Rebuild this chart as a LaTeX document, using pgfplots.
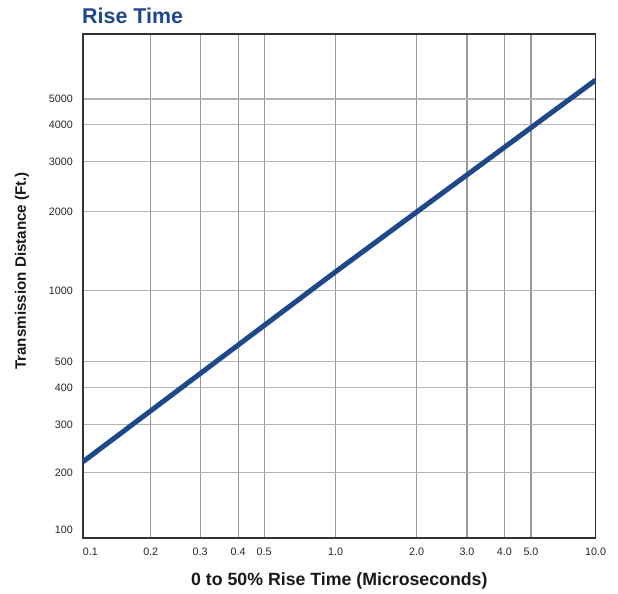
\documentclass[border=0pt]{standalone}
\usepackage{fontspec}
\setmainfont{Liberation Sans}
\usepackage{pgfplots}
\pgfplotsset{compat=1.18}
\definecolor{riseblue}{RGB}{30,72,138}
\definecolor{gridgrayx}{RGB}{152,152,152}
\definecolor{gridgrayy}{RGB}{180,180,180}

% piecewise mapping of the printed (slightly irregular) log grid
\newcommand\getL[1]{%
  \pgfmathfloatparsenumber{#1}\pgfmathfloattofixed{\pgfmathresult}\let\myV\pgfmathresult
  \pgfkeys{/pgf/fpu=false}%
  \pgfmathparse{ln(\myV)/ln(10)}\let\myL\pgfmathresult}
\newcommand\xmap[1]{%
  \begingroup\getL{#1}%
  \pgfmathparse{(\myL<(-0.69897)) ? ((\myL+1)*224.9) : ((\myL<(-0.52288)) ? (67.7+(\myL+0.69897)*281.7) : ((\myL<(-0.39794)) ? (117.3+(\myL+0.52288)*304.1) : ((\myL<(-0.30103)) ? (155.3+(\myL+0.39794)*268.3) : ((\myL<0) ? (181.3+(\myL+0.30103)*237.2) : ((\myL<0.30103) ? (252.7+(\myL)*269.1) : ((\myL<0.47712) ? (333.7+(\myL-0.30103)*285.7) : ((\myL<0.60206) ? (384+(\myL-0.47712)*298.5) : ((\myL<0.69897) ? (421.3+(\myL-0.60206)*275.5) : (448+(\myL-0.69897)*214.9)))))))))}%
  \pgfmathsmuggle\pgfmathresult
  \endgroup}
\newcommand\ymap[1]{%
  \begingroup\getL{#1}%
  \pgfmathparse{(\myL<2.30103) ? (8+(\myL-2)*190.3) : ((\myL<2.47712) ? (65.3+(\myL-2.30103)*274.9) : ((\myL<2.60206) ? (113.7+(\myL-2.47712)*296.1) : ((\myL<2.69897) ? (150.7+(\myL-2.60206)*268.3) : ((\myL<3) ? (176.7+(\myL-2.69897)*234.5) : ((\myL<3.30103) ? (247.3+(\myL-3)*262.4) : ((\myL<3.47712) ? (326.3+(\myL-3.30103)*286.2) : ((\myL<3.60206) ? (376.7+(\myL-3.47712)*296.1) : ((\myL<3.69897) ? (413.7+(\myL-3.60206)*261.1) : (439+(\myL-3.69897)*261.1)))))))))}%
  \pgfmathsmuggle\pgfmathresult
  \endgroup}

\begin{document}
\begin{tikzpicture}
\path[use as bounding box] (-83bp,-56bp) rectangle (535bp,538bp);
\begin{axis}[
  scale only axis, width=512.7bp, height=504bp,
  x coord trafo/.code={\xmap{#1}},
  y coord trafo/.code={\ymap{#1}},
  xmin=0.1, xmax=10, ymin=90.8, ymax=8870,
  xtick={0.1,0.2,0.3,0.4,0.5,1,2,3,4,5,10},
  xticklabels={\makebox[0pt][l]{0.1},0.2,0.3,0.4,0.5,1.0,2.0,3.0,4.0,5.0,10.0},
  ytick={200,300,400,500,1000,2000,3000,4000,5000},
  yticklabels={200,300,400,500,1000,2000,3000,4000,5000},
  extra y ticks={100}, extra y tick labels={100},
  extra y tick style={grid=none},
  xmajorgrids, ymajorgrids,
  major x grid style={draw=gridgrayx, line width=1.1bp},
  major y grid style={draw=gridgrayy, line width=1.3bp},
  major tick length=0pt,
  axis line style={line width=1.2bp, black!80},
  tick label style={font=\fontsize{10.8}{12}\selectfont, text=black!85},
  xticklabel style={anchor=north, inner sep=0pt, yshift=-10bp},
  yticklabel style={anchor=east, inner sep=0pt, xshift=-10bp},
  title={Rise Time},
  title style={at={([xshift=-1bp,yshift=4.5bp]axis description cs:0,1)}, anchor=base west, inner sep=0pt,
    font=\fontsize{21.5}{24}\selectfont\bfseries, text=riseblue},
  xlabel={0 to 50\% Rise Time (Microseconds)},
  xlabel style={at={([yshift=-47bp]axis description cs:0.5,0)}, anchor=base, inner sep=0pt,
    font=\fontsize{17.8}{20}\selectfont\bfseries, text=black!90},
  ylabel={Transmission Distance (Ft.)},
  ylabel style={at={([xshift=-57bp]axis description cs:0,0.53)}, anchor=base, inner sep=0pt,
    font=\fontsize{15.2}{18}\selectfont\bfseries, text=black!90},
]
\addplot[riseblue, line width=5bp] coordinates {(0.1,219.3) (1,1181.5) (10,5911)};
\end{axis}
\end{tikzpicture}
\end{document}
